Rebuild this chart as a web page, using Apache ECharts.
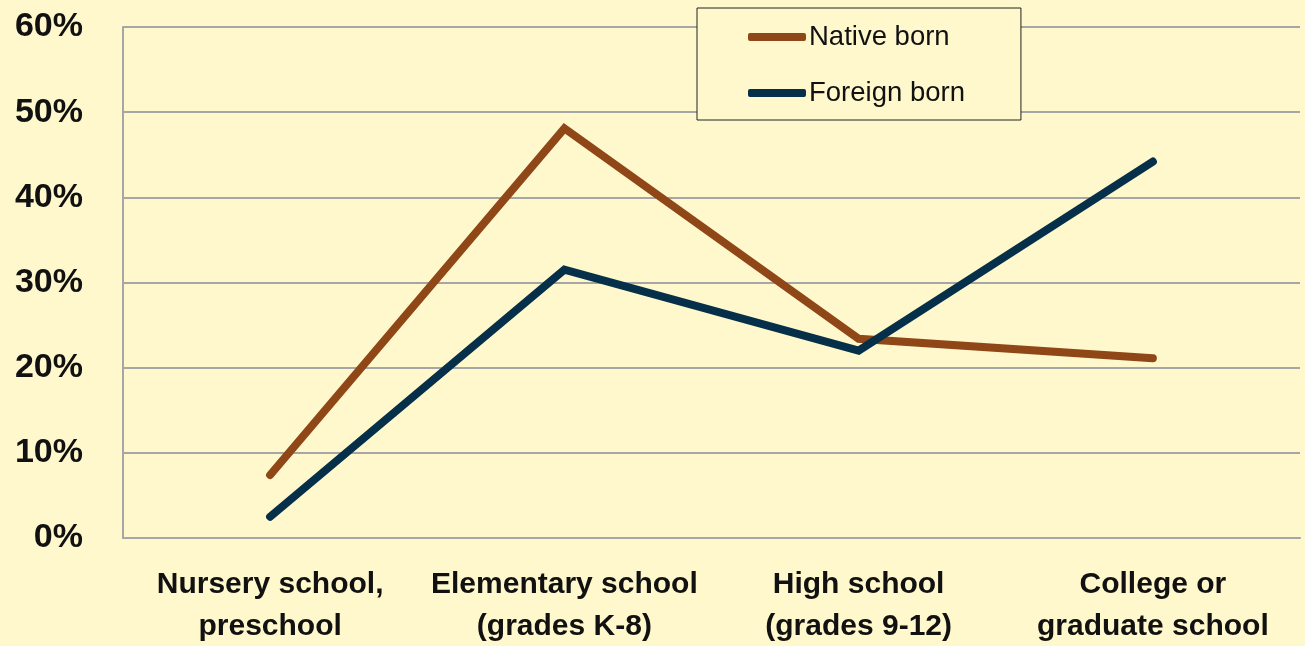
<!DOCTYPE html>
<html>
<head>
<meta charset="utf-8">
<script src="https://cdn.jsdelivr.net/npm/echarts@6/dist/echarts.min.js"></script>
<style>
  html, body { margin: 0; padding: 0; background: #fff8cc; }
  #chart { width: 1305px; height: 646px; }
</style>
</head>
<body>
<div id="chart"></div>
<script>
// school level categories
var categories = [
  "Nursery school,\npreschool",
  "Elementary school\n(grades K-8)",
  "High school\n(grades 9-12)",
  "College or\ngraduate school"
];
// share of enrolled population, percent
var nativeBorn = [7.4, 48.1, 23.4, 21.1];
var foreignBorn = [2.5, 31.5, 22.0, 44.2];

var chart = echarts.init(document.getElementById("chart"));
var option = {
  backgroundColor: "#fff8cc",
  animation: false,
  grid: { left: 123, right: 5, top: 27, bottom: 108, outerBoundsMode: "none" },
  legend: {
    orient: "vertical",
    left: 697,
    top: 8,
    padding: [14, 56, 12, 51],
    itemGap: 26,
    itemWidth: 58,
    itemHeight: 8,
    icon: "roundRect",
    borderColor: "#222",
    borderWidth: 1,
    backgroundColor: "#fff8cc",
    textStyle: {
      fontFamily: "Liberation Sans, Arial",
      fontSize: 27.5,
      color: "#111",
      lineHeight: 30,
      padding: [0, 0, 0, -2]
    },
    data: ["Native born", "Foreign born"]
  },
  xAxis: {
    type: "category",
    data: categories,
    axisLine: { lineStyle: { color: "#a6a6a6", width: 2 } },
    axisTick: { show: false },
    axisLabel: {
      interval: 0,
      margin: 26,
      fontFamily: "Liberation Sans, Arial",
      fontWeight: "bold",
      fontSize: 30,
      lineHeight: 42,
      color: "#111"
    }
  },
  yAxis: {
    type: "value",
    min: 0,
    max: 60,
    interval: 10,
    axisLine: { show: true, lineStyle: { color: "#a6a6a6", width: 2 } },
    axisTick: { show: false },
    splitLine: { lineStyle: { color: "#a6a6a6", width: 2 } },
    axisLabel: {
      margin: 40,
      formatter: "{value}%",
      fontFamily: "Liberation Sans, Arial",
      fontWeight: "bold",
      fontSize: 34,
      color: "#111",
      padding: [6, 0, 0, 0]
    }
  },
  series: [
    {
      name: "Native born",
      type: "line",
      data: nativeBorn,
      symbol: "none",
      itemStyle: { color: "#8f4717" },
      lineStyle: { color: "#8f4717", width: 8, cap: "round", join: "miter" }
    },
    {
      name: "Foreign born",
      type: "line",
      data: foreignBorn,
      symbol: "none",
      itemStyle: { color: "#06304a" },
      lineStyle: { color: "#06304a", width: 8, cap: "round", join: "miter" }
    }
  ]
};
chart.setOption(option);
window.addEventListener("resize", function() {
  chart.resize();
});
</script>
</body>
</html>
